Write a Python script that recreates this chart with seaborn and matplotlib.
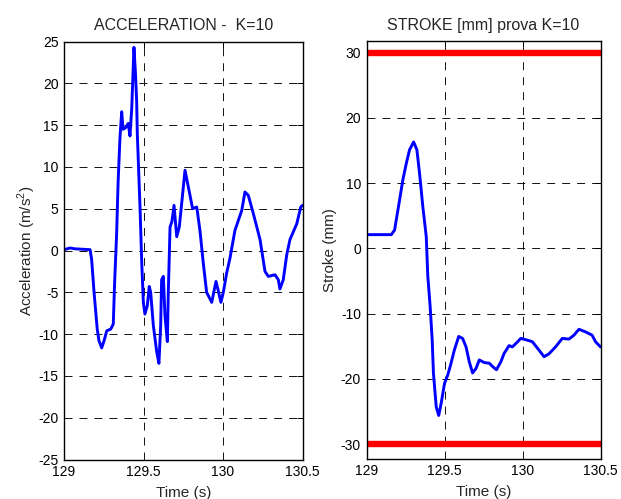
import matplotlib
matplotlib.use("Agg")
import matplotlib.pyplot as plt
import numpy as np
import pandas as pd
import seaborn as sns

# Acceleration record (m/s^2) versus time (s)
acc_time = [129.0, 129.038, 129.069, 129.164, 129.174, 129.189, 129.209, 129.220,
            129.237, 129.252, 129.269, 129.294, 129.310, 129.318, 129.331, 129.340,
            129.352, 129.363, 129.371, 129.388, 129.404, 129.415, 129.426, 129.440,
            129.450, 129.457, 129.461, 129.478, 129.489, 129.499, 129.509, 129.524,
            129.536, 129.545, 129.562, 129.583, 129.597, 129.608, 129.614, 129.625,
            129.635, 129.650, 129.656, 129.667, 129.679, 129.692, 129.709, 129.725,
            129.740, 129.761, 129.782, 129.809, 129.835, 129.855, 129.876, 129.897,
            129.929, 129.956, 129.970, 129.987, 130.002, 130.023, 130.044, 130.075,
            130.118, 130.138, 130.159, 130.191, 130.233, 130.264, 130.285, 130.327,
            130.348, 130.358, 130.379, 130.401, 130.421, 130.464, 130.489, 130.5]
acc_value = [0.1, 0.3, 0.2, 0.1, -1.1, -5.0, -9.4, -10.8,
             -11.65, -10.8, -9.6, -9.4, -8.8, -4.0, 2.0, 8.0,
             13.5, 16.6, 14.5, 14.7, 15.2, 13.7, 17.0, 24.3,
             21.0, 17.8, 14.0, 5.2, -1.5, -6.2, -7.6, -6.6,
             -4.3, -5.0, -9.0, -12.1, -13.5, -9.0, -3.5, -3.1,
             -7.8, -10.9, -5.0, 2.8, 3.5, 5.4, 1.65, 2.8,
             5.6, 9.6, 7.6, 5.0, 5.2, 2.4, -1.5, -5.0,
             -6.2, -3.7, -4.8, -6.2, -5.0, -2.7, -0.9, 2.4,
             4.8, 7.0, 6.6, 4.4, 1.3, -2.5, -3.1, -2.9,
             -3.5, -4.6, -3.5, -0.5, 1.3, 3.2, 5.2, 5.4]

# Stroke record (mm) versus time (s)
stroke_time = [129.0, 129.159, 129.180, 129.212, 129.233, 129.255, 129.276, 129.302,
               129.323, 129.340, 129.361, 129.383, 129.393, 129.408, 129.421, 129.429,
               129.447, 129.463, 129.479, 129.500, 129.521, 129.542, 129.563, 129.591,
               129.616, 129.638, 129.659, 129.680, 129.702, 129.723, 129.755, 129.787,
               129.808, 129.833, 129.861, 129.882, 129.914, 129.935, 129.961, 129.989,
               130.021, 130.063, 130.106, 130.138, 130.168, 130.212, 130.255, 130.298,
               130.330, 130.362, 130.404, 130.446, 130.468, 130.5]
stroke_value = [2.1, 2.1, 2.8, 7.4, 10.5, 13.0, 15.1, 16.3,
                15.1, 11.5, 6.4, 1.8, -4.3, -8.9, -14.0, -19.1,
                -24.3, -25.6, -23.7, -20.7, -19.4, -17.6, -15.6, -13.5,
                -13.8, -15.1, -17.4, -19.1, -18.4, -17.1, -17.5, -17.6,
                -18.1, -18.6, -17.4, -16.1, -14.9, -15.1, -14.5, -13.8,
                -14.0, -14.3, -15.6, -16.6, -16.2, -15.1, -13.8, -13.9,
                -13.3, -12.4, -12.8, -13.3, -14.3, -15.1]

stroke_limit_time = [129.0, 130.5]
stroke_limits = [30, -30]

x_ticks = [129, 129.5, 130, 130.5]
x_tick_labels = ["129", "129.5", "130", "130.5"]
acc_ticks = list(range(-25, 30, 5))
stroke_ticks = list(range(-30, 40, 10))

sns.set_style("white")
plt.rcParams["font.family"] = ["Liberation Sans", "DejaVu Sans"]
plt.rcParams["axes.unicode_minus"] = False
plt.rcParams["mathtext.fontset"] = "custom"
plt.rcParams["mathtext.rm"] = "Liberation Sans"

W, H = 621, 499
fig = plt.figure(figsize=(W / 100, H / 100), dpi=100)
fig.patch.set_facecolor("white")


def axes_at(x0, x1, y0, y1):
    return fig.add_axes([x0 / W, 1 - y1 / H, (x1 - x0) / W, (y1 - y0) / H])


ax1 = axes_at(64, 302.5, 41.5, 459.5)
ax2 = axes_at(366.5, 600.5, 40.8, 458.5)

acc_df = pd.DataFrame({"t": acc_time, "a": acc_value})
stroke_df = pd.DataFrame({"t": stroke_time, "s": stroke_value})

sns.lineplot(data=acc_df, x="t", y="a", ax=ax1, color="#0000ff", lw=2.1,
             sort=False, estimator=None)
sns.lineplot(data=stroke_df, x="t", y="s", ax=ax2, color="#0000ff", lw=2.1,
             sort=False, estimator=None)
for lim in stroke_limits:
    sns.lineplot(x=stroke_limit_time, y=[lim, lim], ax=ax2, color="#ff0000",
                 lw=4.6, estimator=None, solid_capstyle="butt")

for ax in (ax1, ax2):
    ax.set_xlim(129, 130.5)
    ax.set_xticks(x_ticks)
    ax.set_xticklabels(x_tick_labels)
    ax.grid(True, color="#111111", linestyle=(0, (8.2, 7.2)), linewidth=0.7)
    ax.tick_params(direction="in", length=4, width=0.7, top=True, right=True,
                   labelsize=10, colors="black", pad=4)
    for sp in ax.spines.values():
        sp.set_visible(True)
        sp.set_color("black")
        sp.set_linewidth(1.0)
    ax.set_xlabel("Time (s)", fontsize=11, labelpad=5)
    ax.set_facecolor("white")

ax1.set_ylim(-25, 25)
ax1.set_yticks(acc_ticks)
ax1.set_yticklabels([str(v) for v in acc_ticks])
ax1.set_ylabel("Acceleration (m/s$^2$)", fontsize=11, labelpad=0)
ax1.set_title("ACCELERATION -  K=10", fontsize=11.5, pad=8)

ax2.set_ylim(-32.2, 31.8)
ax2.set_yticks(stroke_ticks)
ax2.set_yticklabels([str(v) for v in stroke_ticks])
ax2.set_ylabel("Stroke (mm)", fontsize=11, labelpad=3)
ax2.set_title("STROKE [mm] prova K=10", fontsize=11.5, pad=8)

fig.savefig("out.png", dpi=100, facecolor="white")
